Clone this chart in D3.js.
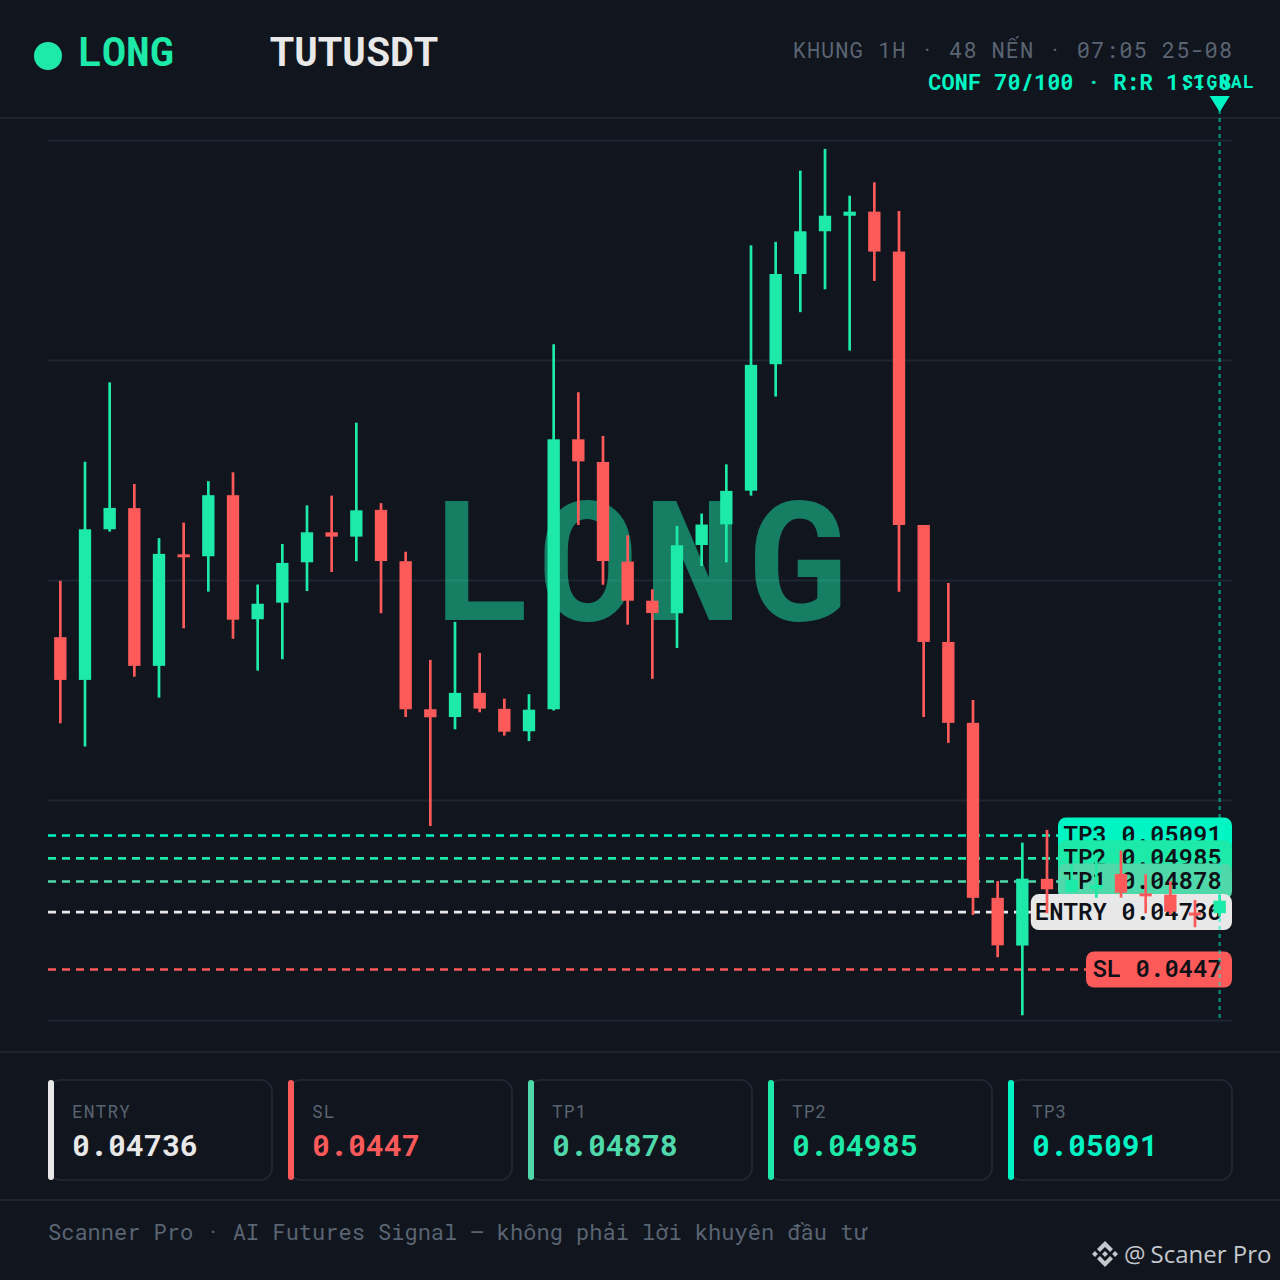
<!DOCTYPE html>
<html><head><meta charset="utf-8">
<style>html,body{margin:0;padding:0;background:#10151e}svg{display:block}</style>
<script src="https://cdn.jsdelivr.net/npm/d3@7"></script>
</head><body><svg id="c" width="1280" height="1280"></svg>
<script>
const opens=[.06010,.05812,.06510,.06608,.05877,.06394,.06385,.06668,.06093,.06170,.06357,.06496,.06476,.06600,.06362,.05676,.05640,.05752,.05678,.05574,.05676,.06927,.06822,.06360,.06179,.06121,.06437,.06533,.06689,.07275,.07693,.07891,.07963,.07982,.07797,.06530,.05988,.05613,.04802,.04581,.04890,.04831,.04843,.04913,.04823,.04817,.04734,.04731];
const closes=[.05812,.06510,.06609,.05877,.06396,.06382,.06668,.06091,.06165,.06354,.06496,.06476,.06598,.06363,.05676,.05639,.05752,.05679,.05572,.05674,.06927,.06825,.06363,.06179,.06122,.06436,.06532,.06688,.07272,.07693,.07891,.07963,.07982,.07797,.06530,.05988,.05613,.04802,.04582,.04891,.04842,.04885,.04862,.04826,.04814,.04738,.04726,.04789];
const highs=[.06271,.06823,.07191,.06720,.06469,.06541,.06733,.06774,.06254,.06442,.06621,.06666,.07004,.06631,.06406,.05905,.06081,.05937,.05725,.05746,.07368,.07145,.06943,.06482,.06232,.06526,.06583,.06811,.07826,.07842,.08172,.08273,.08056,.08118,.07985,.06530,.06261,.05719,.04880,.05058,.05117,.04955,.05010,.05021,.04911,.04880,.04792,.04816];
const lows=[.05611,.05503,.06499,.05827,.05730,.06051,.06221,.06003,.05855,.05908,.06224,.06312,.06362,.06121,.05640,.05135,.05583,.05662,.05554,.05529,.05670,.06530,.06253,.06068,.05817,.05960,.06340,.06357,.06666,.07125,.07516,.07622,.07338,.07661,.06220,.05640,.05520,.04723,.04527,.04258,.04731,.04827,.04802,.04803,.04731,.04723,.04666,.04715];
const candleIds=d3.range(48);
const gridPrices=[.08314,.07294,.06275,.05256,.04236];
const levelNames=["TP3","TP2","TP1","ENTRY","SL"];
const levelPrices=[.05091,.04985,.04878,.04736,.0447];
const levelText=["0.05091","0.04985","0.04878","0.04736","0.0447"];
const levelColors=["#00f5c4","#1de9a8","#4fd9ab","#e8e8e8","#ff5a5a"];
const cardOrder=["ENTRY","SL","TP1","TP2","TP3"];

const GREEN="#1de9a8",RED="#ff5a5a",MONO="'Roboto Mono','DejaVu Sans Mono',monospace",MUTED="#5a6472",LINE="#1e2632";
const svg=d3.select("#c");
svg.append("rect").attr("width",1280).attr("height",1280).attr("fill","#10151e");
const x=d3.scaleBand().domain(candleIds).range([48,1232]);
const y=d3.scaleLinear().domain([.04236,.08314]).range([1020,140]);
function t(sel,x0,y0,s,size,fill,weight,anchor,ls,font){return sel.append("text").attr("x",x0).attr("y",y0).text(s).attr("font-size",size).attr("fill",fill).attr("font-weight",weight||400).attr("text-anchor",anchor||"start").attr("letter-spacing",ls||0).attr("font-family",font||MONO);}

// frame rules
[118,1052,1200].forEach(v=>svg.append("line").attr("x1",0).attr("x2",1280).attr("y1",v).attr("y2",v).attr("stroke",LINE).attr("stroke-width",2));

// header
svg.append("circle").attr("cx",48).attr("cy",56).attr("r",14).attr("fill",GREEN);
t(svg,78,66,"LONG",40,GREEN,700);
t(svg,270,66,"TUTUSDT",40,"#e8e8e8",700);
t(svg,1233,58,"KHUNG 1H · 48 NẾN · 07:05 25-08",22,MUTED,400,"end",1);
t(svg,1232,90,"CONF 70/100 · R:R 1:1.8",22,"#00f5c4",700,"end");

// grid
const gridG=svg.append("g").attr("transform","translate(48,0)").call(d3.axisRight(y).tickValues(gridPrices).tickSize(1184).tickFormat(""));
gridG.select(".domain").remove();
gridG.selectAll("line").attr("stroke",LINE).attr("stroke-width",2);

// watermark
t(svg,643,619.5,"LONG",167,GREEN,700,"middle",4.8).attr("opacity",.5);

// level lines
const lv=svg.append("g");
levelNames.forEach((n,i)=>{
  lv.append("line").attr("x1",48).attr("x2",1232).attr("y1",y(levelPrices[i])).attr("y2",y(levelPrices[i]))
    .attr("stroke",levelColors[i]).attr("stroke-width",2.6).attr("stroke-dasharray","8 6");
});
const labelPad={TP3:15.6,TP2:15.6,TP1:15.6,ENTRY:14,SL:16.4};
levelNames.forEach((n,i)=>{
  const s=n+" "+levelText[i], w=s.length*14.4+labelPad[n], yy=y(levelPrices[i]);
  lv.append("rect").attr("x",1232-w).attr("y",yy-18).attr("width",w).attr("height",36).attr("rx",8).attr("fill",levelColors[i]);
  t(lv,1222,yy+7.6,s,24,"#0d1117",600,"end");
});

// candles
const cg=svg.append("g");
const bw=x.bandwidth()*.5;
cg.selectAll("line").data(candleIds).join("line")
  .attr("x1",i=>x(i)+x.bandwidth()/2).attr("x2",i=>x(i)+x.bandwidth()/2)
  .attr("y1",i=>y(highs[i])).attr("y2",i=>y(lows[i])).attr("stroke-width",2.7)
  .attr("stroke",i=>closes[i]>=opens[i]?GREEN:RED);
cg.selectAll("rect").data(candleIds).join("rect")
  .attr("x",i=>x(i)+x.bandwidth()/2-bw/2).attr("width",bw)
  .attr("y",i=>y(Math.max(opens[i],closes[i])))
  .attr("height",i=>Math.max(3,Math.abs(y(opens[i])-y(closes[i]))))
  .attr("fill",i=>closes[i]>=opens[i]?GREEN:RED);

// signal marker
const sx=x(47)+x.bandwidth()/2;
svg.append("line").attr("x1",sx).attr("x2",sx).attr("y1",110).attr("y2",1020).attr("stroke","#00f5c4").attr("stroke-width",2.4).attr("stroke-dasharray","4 4").attr("opacity",.5);
svg.append("path").attr("d",d3.line()([[sx-10,96],[sx+10,96],[sx,112]])+"Z").attr("fill","#00f5c4");
t(svg,sx-1,88,"SIGNAL",18,"#00f5c4",700,"middle",1.4);

// cards
cardOrder.forEach((n,i)=>{
  const k=levelNames.indexOf(n), cx=48+240*i, g=svg.append("g");
  g.append("rect").attr("x",cx+1).attr("y",1080).attr("width",223).attr("height",100).attr("rx",12).attr("fill","#10151e").attr("stroke",LINE).attr("stroke-width",2);
  g.append("rect").attr("x",cx).attr("y",1080).attr("width",6).attr("height",100).attr("rx",3).attr("fill",levelColors[k]);
  t(g,cx+24,1118,n,18,MUTED,400,"start",1);
  t(g,cx+24,1156,levelText[k],30,levelColors[k],700);
});

// footer
t(svg,48,1240,"Scanner Pro · AI Futures Signal — không phải lời khuyên đầu tư",22,MUTED);
const logo=svg.append("g").attr("transform","translate(1092,1241) scale(.2054)").attr("fill","#c4c7cc");
["M38.73 53.2l24.59-24.58 24.6 24.6 14.3-14.31L63.32 0 24.42 38.9l14.31 14.3z","M0 63.31l14.3-14.31 14.31 14.31-14.31 14.3z","M38.73 73.41l24.59 24.59 24.6-24.6 14.31 14.29-38.9 38.91-38.91-38.9-.02-.02z","M98.01 63.31l14.31-14.31 14.31 14.31-14.31 14.31z","M77.83 63.3L63.32 48.78 52.59 59.51l-1.24 1.23-2.54 2.54 14.51 14.52 14.5-14.5z"].forEach(d=>logo.append("path").attr("d",d));
const brand=t(svg,1124,1263,"@",24,"#c4c7cc",400,"start",0,"'Open Sans'");
brand.append("tspan").attr("dx",5).attr("font-size",24).text("Scaner Pro");
</script></body></html>
